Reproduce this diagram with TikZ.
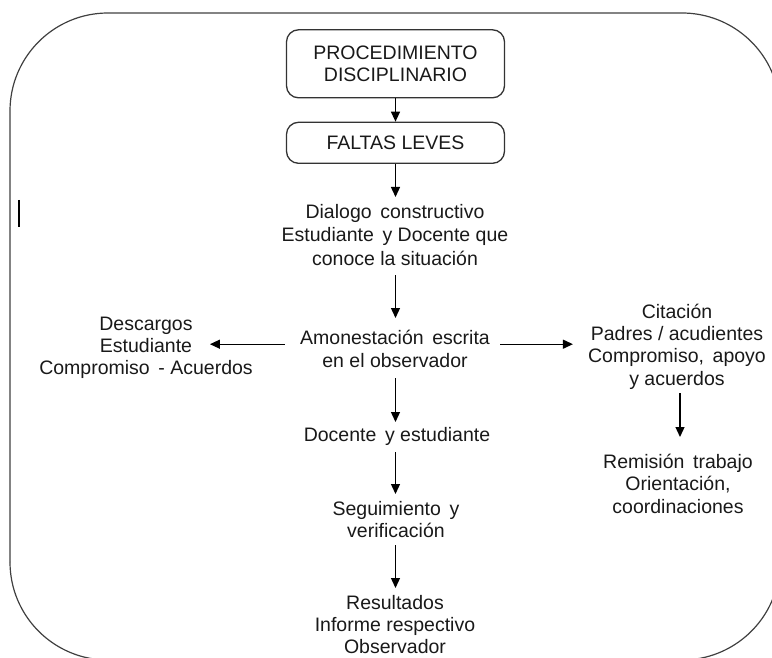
\documentclass[tikz,border=0pt]{standalone}
\usepackage{fontspec}
\setmainfont{Liberation Sans}
\usetikzlibrary{arrows.meta}
\newcommand\tstr{\rule{0pt}{18pt}}
\newcommand\bstr{\rule[-6pt]{0pt}{6pt}}
\begin{document}
\begin{tikzpicture}[x=1pt,y=-1pt,
  txt/.style={inner sep=0pt, align=center, anchor=north, text=black!90, font=\fontsize{19.5}{22.3}\selectfont},
  boxnode/.style={draw=black!80, line width=1.3pt, rounded corners=12pt, minimum width=218pt, align=center, inner sep=0pt, text=black!90, font=\fontsize{19.5}{21.3}\selectfont},
  arr/.style={line width=1.3pt, -{Triangle[length=10pt,width=9pt]}},
  frame/.style={black!75, line width=1.2pt},
]
\useasboundingbox (0,0) rectangle (772,658);
\begin{scope}
\clip (0,0) rectangle (772,658);
\draw[frame] (10,562) -- (10,111) arc[start angle=180, end angle=270, radius=98] -- (682,13) arc[start angle=270, end angle=345, radius=98];
\draw[frame] (10,562) arc[start angle=180, end angle=90, radius=98] -- (682,660) arc[start angle=90, end angle=15, radius=98];
\end{scope}
\draw[line width=2.5pt] (19,200) -- (19,227);

\node[boxnode, minimum height=68pt] (b1) at (395.5,63.8) {PROCEDIMIENTO\\DISCIPLINARIO};
\node[boxnode, minimum height=41pt] (b2) at (395.5,142.8) {FALTAS LEVES};

\node[txt, font=\fontsize{19.5}{23.5}\selectfont] (dial) at (395,200) {\tstr Dialogo\, constructivo\\Estudiante\, y Docente que\\conoce la situación\bstr};
\node[txt] (amon) at (395,326.5) {\tstr Amonestación\, escrita\\en el observador\bstr};
\node[txt, font=\fontsize{19.5}{22}\selectfont] (desc) at (146,312) {\tstr Descargos\\Estudiante\\Compromiso\, - Acuerdos\bstr};
\node[txt] (cit) at (677,300) {\tstr Citación\\Padres / acudientes\\Compromiso,\, apoyo\\y acuerdos\bstr};
\node[txt, font=\fontsize{19.5}{22.5}\selectfont] (rem) at (678,450) {\tstr Remisión\, trabajo\\Orientación,\\coordinaciones\bstr};
\node[txt] (doc) at (397,423) {\tstr Docente\, y estudiante\bstr};
\node[txt, font=\fontsize{19.5}{22}\selectfont] (seg) at (396,497) {\tstr Seguimiento\, y\\verificación\bstr};
\node[txt, font=\fontsize{19.5}{22}\selectfont] (res) at (395,591) {\tstr Resultados\\Informe respectivo\\Observador\bstr};

\draw[arr] (b1.south) -- (b2.north);
\draw[arr, shorten >=3pt] (b2.south) -- (b2.south |- dial.north);
\draw[arr, shorten <=4pt, shorten >=8.5pt] (dial.south -| b1.south) -- (amon.north -| b1.south);
\draw[arr, shorten <=5pt, shorten >=1pt] (amon.south -| b1.south) -- (doc.north -| b1.south);
\draw[arr, shorten <=5pt, shorten >=3pt] (doc.south -| b1.south) -- (seg.north -| b1.south);
\draw[arr, shorten <=2pt, shorten >=3pt] (seg.south -| b1.south) -- (res.north -| b1.south);
\draw[arr, shorten <=15pt, shorten >=-43pt] ([yshift=2pt]desc.east -| amon.west) -- ([yshift=2pt]desc.east);
\draw[arr, shorten <=10pt, shorten >=15pt] ([yshift=2pt]desc.east -| amon.east) -- ([yshift=2pt]desc.east -| cit.west);
\draw[arr, shorten <=2pt, shorten >=13pt] ([xshift=3pt]cit.south) -- ([xshift=3pt]cit.south |- rem.north);
\end{tikzpicture}
\end{document}
